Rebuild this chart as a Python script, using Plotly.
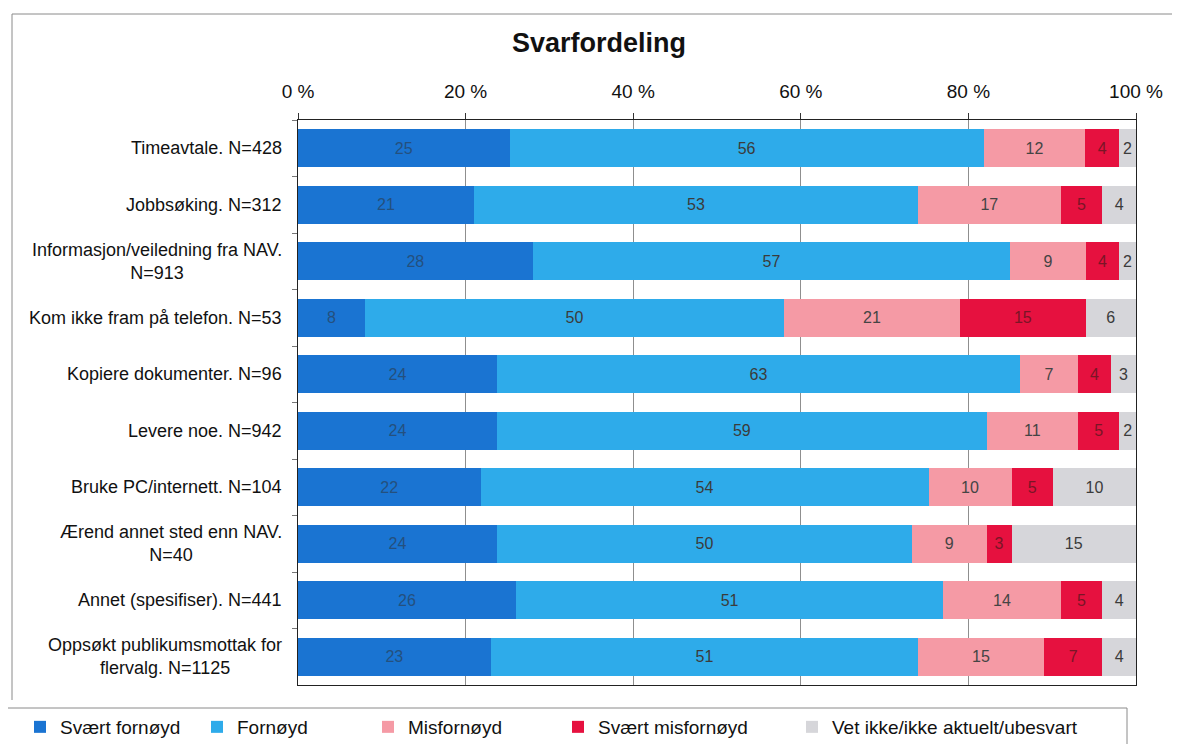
import plotly.graph_objects as go

# categories, top to bottom
categories = [
    "Timeavtale. N=428",
    "Jobbsøking. N=312",
    "Informasjon/veiledning fra NAV.<br>N=913",
    "Kom ikke fram på telefon. N=53",
    "Kopiere dokumenter. N=96",
    "Levere noe. N=942",
    "Bruke PC/internett. N=104",
    "Ærend annet sted enn NAV.<br>N=40",
    "Annet (spesifiser). N=441",
    "Oppsøkt publikumsmottak for<br>flervalg. N=1125",
]

svaert_fornoyd = [25, 21, 28, 8, 24, 24, 22, 24, 26, 23]
fornoyd = [56, 53, 57, 50, 63, 59, 54, 50, 51, 51]
misfornoyd = [12, 17, 9, 21, 7, 11, 10, 9, 14, 15]
svaert_misfornoyd = [4, 5, 4, 15, 4, 5, 5, 3, 5, 7]
vet_ikke = [2, 4, 2, 6, 3, 2, 10, 15, 4, 4]

series_names = ["Svært fornøyd", "Fornøyd", "Misfornøyd", "Svært misfornøyd",
                "Vet ikke/ikke aktuelt/ubesvart"]
series_values = [svaert_fornoyd, fornoyd, misfornoyd, svaert_misfornoyd, vet_ikke]

tick_vals = [0, 20, 40, 60, 80, 100]
tick_text = ["0 %", "20 %", "40 %", "60 %", "80 %", "100 %"]

colors = ["#1a74d2", "#2eabea", "#f59aa5", "#e6113f", "#d6d6da"]
text_colors = ["#24507e", "#3b3b3b", "#444444", "#7a1526", "#3b3b3b"]
# left edge (page px) of each legend entry, like the original legend
legend_x = [20, 197, 368, 558, 792]

FONT = "Liberation Sans, Arial, sans-serif"

# the page body has an 8px margin; work in page pixels and shift
OFF = 8
W, H = 1180 - 2 * OFF, 752 - 2 * OFF
L, R, T, B = 298, 1136, 120, 685  # plot area in page px


def px(x):
    return (x - L) / (R - L)


def py(y):
    return (B - y) / (B - T)


fig = go.Figure()
for i, (name, vals, col, tcol) in enumerate(zip(series_names, series_values, colors, text_colors)):
    fig.add_trace(go.Bar(
        y=categories, x=vals, name=name, orientation="h",
        marker=dict(color=col, line=dict(width=0)),
        text=vals, texttemplate="%{text}", textposition="inside",
        insidetextanchor="middle", constraintext="none",
        textfont=dict(family=FONT, size=16, color=tcol),
        hovertemplate="%{y}: %{text}<extra>" + name + "</extra>",
        legend="legend" if i == 0 else "legend%d" % (i + 1),
    ))

# category labels, lines centred like the original
annotations = []
for cat in categories:
    annotations.append(dict(
        x=px(L - 14), y=cat, xref="paper", yref="y", text=cat,
        showarrow=False, xanchor="right", yanchor="middle", align="center",
        font=dict(family=FONT, size=18, color="#111111"),
    ))

shapes = [
    # outer chart frame
    dict(type="line", xref="paper", yref="paper", x0=px(12), x1=px(1180), y0=py(14), y1=py(14),
         line=dict(color="#8a8a8a", width=1)),
    dict(type="line", xref="paper", yref="paper", x0=px(12), x1=px(12), y0=py(14), y1=py(700),
         line=dict(color="#8a8a8a", width=1)),
    # legend box
    dict(type="rect", xref="paper", yref="paper", x0=px(6), x1=px(1127), y0=py(708), y1=py(760),
         line=dict(color="#8a8a8a", width=1)),
]

legend_style = dict(orientation="h", xanchor="left", y=py(727), yanchor="middle",
                    font=dict(family=FONT, size=19, color="#111111"),
                    itemwidth=30, bgcolor="rgba(0,0,0,0)")
legends = {}
for i, lx in enumerate(legend_x):
    key = "legend" if i == 0 else "legend%d" % (i + 1)
    legends[key] = dict(legend_style, x=px(lx))

fig.update_layout(
    width=W, height=H,
    margin=dict(l=L - OFF, r=W + OFF - R, t=T - OFF, b=H + OFF - B, pad=0, autoexpand=False),
    barmode="stack", barnorm="percent", bargap=0.32,
    paper_bgcolor="white", plot_bgcolor="white",
    font=dict(family=FONT, color="#111111"),
    title=dict(text="<b>Svarfordeling</b>", x=(599 - OFF) / W, xanchor="center",
               y=1 - (43 - OFF) / H, yanchor="middle", font=dict(size=27, color="#111111")),
    uniformtext=dict(minsize=16, mode="show"),
    showlegend=True,
    xaxis=dict(side="top", range=[0, 100], tickvals=tick_vals, ticktext=tick_text,
               ticks="outside", ticklen=6, tickcolor="#333333",
               ticklabelstandoff=7,
               showgrid=True, gridcolor="#8f8f8f", gridwidth=1,
               showline=True, linecolor="#222222", linewidth=1, mirror=True,
               zeroline=False, tickfont=dict(family=FONT, size=19, color="#111111"),
               fixedrange=True),
    yaxis=dict(autorange="reversed", showticklabels=False, ticks="outside",
               tickson="boundaries", ticklen=5, tickcolor="#777777",
               showline=True, linecolor="#222222", linewidth=1, mirror=True,
               showgrid=False, fixedrange=True),
    annotations=annotations,
    shapes=shapes,
    **legends,
)

fig.write_html("out.html")
